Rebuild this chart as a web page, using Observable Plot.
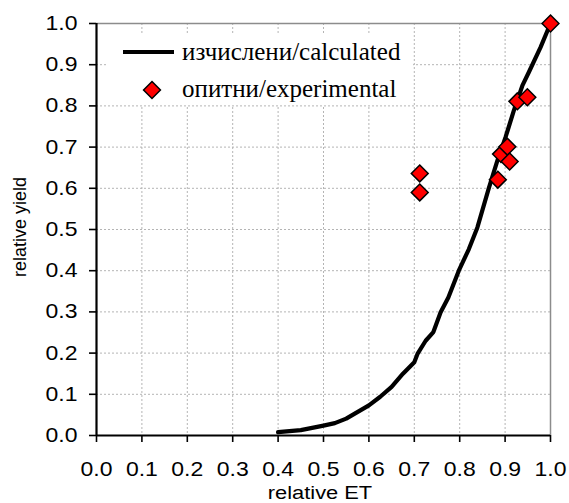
<!DOCTYPE html>
<html><head><meta charset="utf-8">
<script src="https://cdn.jsdelivr.net/npm/d3@7"></script>
<script src="https://cdn.jsdelivr.net/npm/@observablehq/plot@0.6"></script>
<style>body{margin:0;background:#fff}</style>
</head><body><div id="chart"></div>
<script>
// calculated curve
const calcET    = [0.40, 0.45, 0.50, 0.525, 0.55, 0.60, 0.625, 0.65, 0.675, 0.70, 0.707, 0.725, 0.742, 0.758, 0.775, 0.798, 0.82, 0.839, 0.864, 0.883, 0.901, 0.919, 0.938, 0.952, 0.978, 1.0];
const calcYield = [0.008, 0.013, 0.024, 0.030, 0.041, 0.073, 0.094, 0.118, 0.150, 0.178, 0.198, 0.230, 0.251, 0.299, 0.335, 0.400, 0.452, 0.505, 0.600, 0.667, 0.724, 0.788, 0.849, 0.881, 0.942, 1.0];
// experimental points
const expET    = [0.712, 0.712, 0.884, 0.891, 0.905, 0.910, 0.927, 0.949, 1.0];
const expYield = [0.636, 0.590, 0.621, 0.683, 0.701, 0.665, 0.811, 0.821, 1.0];
const ticks = [0, 0.1, 0.2, 0.3, 0.4, 0.5, 0.6, 0.7, 0.8, 0.9, 1.0];
const legendLabels = ["изчислени/calculated", "опитни/experimental"];
const xLabel = "relative ET";
const yLabel = "relative yield";

const calc = calcET.map((x, i) => ({x, y: calcYield[i]}));
const exp = expET.map((x, i) => ({x, y: expYield[i]}));
const fmt = d3.format(".1f");
const dotR = 7.6;

const plot = Plot.plot({
  width: 569, height: 503,
  marginLeft: 96, marginRight: 19, marginTop: 23, marginBottom: 68,
  style: {fontFamily: "'Liberation Sans', Arial, sans-serif", background: "#fff", color: "#000", overflow: "visible"},
  x: {domain: [0, 1]},
  y: {domain: [0, 1]},
  marks: [
    Plot.ruleX(ticks.slice(1, -1), {stroke: "#b4b4b4", strokeDasharray: "2,2", strokeWidth: 1}),
    Plot.ruleY(ticks.slice(1, -1), {stroke: "#b4b4b4", strokeDasharray: "2,2", strokeWidth: 1}),
    Plot.ruleY([1], {stroke: "#8c8c8c", strokeWidth: 1.5}),
    Plot.ruleX([1], {stroke: "#8c8c8c", strokeWidth: 1.5}),
    Plot.axisX(ticks, {tickSize: 7, tickPadding: 19, tickFormat: fmt, fontSize: 20, strokeWidth: 1.6, label: null}),
    Plot.axisY(ticks, {tickSize: 7, tickPadding: 12, tickFormat: fmt, fontSize: 20, strokeWidth: 1.6, label: null}),
    Plot.ruleX([0], {stroke: "#000", strokeWidth: 2.2}),
    Plot.ruleY([0], {stroke: "#000", strokeWidth: 2.2}),
    Plot.line(calc, {x: "x", y: "y", stroke: "#000", strokeWidth: 4.2, curve: "linear"}),
    Plot.dot(exp, {x: "x", y: "y", symbol: "diamond2", r: dotR, fill: "#ff0000", stroke: "#000", strokeWidth: 1.5})
  ]
});
document.getElementById("chart").appendChild(plot);

const svg = d3.select(plot);
// stretch tick labels horizontally to match the reference
svg.selectAll("g[aria-label='x-axis tick label'] text, g[aria-label='y-axis tick label'] text").each(function() {
  const t = this.getAttribute("transform") || "";
  this.setAttribute("transform", t + " scale(1.15,1)");
});

// axis titles
svg.append("text").attr("x", 320).attr("y", 499).attr("text-anchor", "middle")
  .attr("font-size", 19).attr("font-family", "'Liberation Sans', Arial, sans-serif")
  .attr("transform", "translate(320,0) scale(1.15,1) translate(-320,0)")
  .attr("fill", "#000").text(xLabel);
svg.append("text").attr("transform", "translate(26,227) rotate(-90)").attr("text-anchor", "middle")
  .attr("font-size", 18).attr("font-family", "'Liberation Sans', Arial, sans-serif")
  .attr("fill", "#000").text(yLabel);

// legend
const lg = svg.append("g").attr("text-anchor", "start");
lg.append("rect").attr("x", 107).attr("y", 33).attr("width", 306).attr("height", 72).attr("fill", "#fff").attr("stroke", "none");
lg.append("line").attr("x1", 123).attr("x2", 174).attr("y1", 52).attr("y2", 52).attr("stroke", "#000").attr("stroke-width", 4);
lg.append("path").attr("d", d3.symbol(d3.symbolDiamond2, dotR * dotR * Math.PI)())
  .attr("transform", "translate(152,90)").attr("fill", "#ff0000").attr("stroke", "#000").attr("stroke-width", 1.5);
lg.selectAll("text.lt").data(legendLabels).join("text")
  .attr("x", 182).attr("y", (d, i) => i === 0 ? 60 : 97)
  .attr("text-anchor", "start")
  .attr("font-size", 25).attr("font-family", "'Liberation Serif', 'Times New Roman', serif")
  .attr("fill", "#000").text(d => d);
</script>
</body></html>
